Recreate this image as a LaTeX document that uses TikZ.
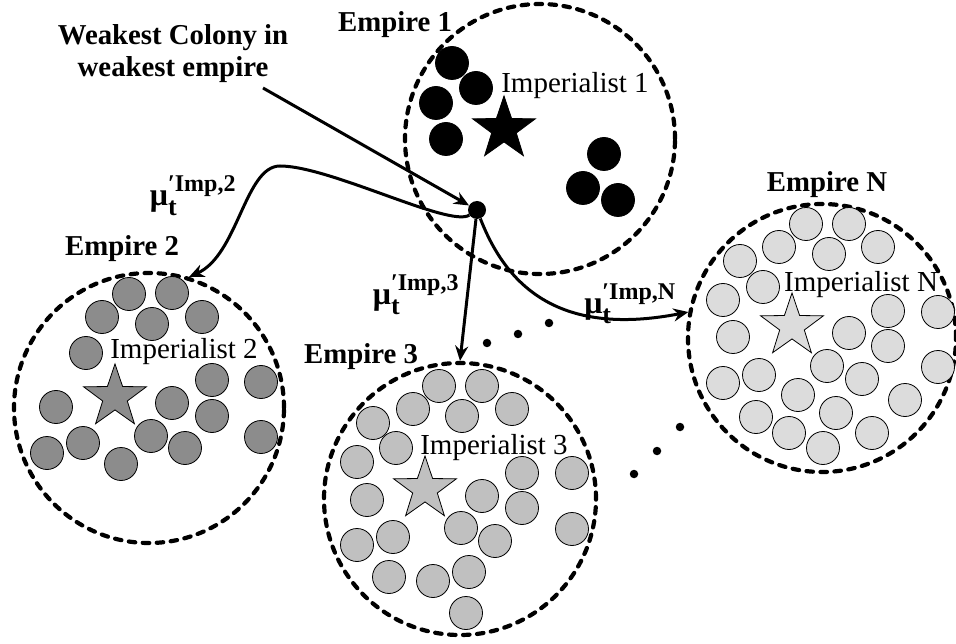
\documentclass[tikz,border=0pt]{standalone}
\usepackage{fontspec}
\usepackage{amsmath}
\setmainfont{Liberation Serif}
\usetikzlibrary{shapes.geometric,arrows.meta}

\definecolor{gA}{HTML}{8C8C8C}
\definecolor{gB}{HTML}{C0C0C0}
\definecolor{gC}{HTML}{DCDCDC}

\tikzset{
  empire/.style={circle, draw, line width=4.2pt, dash pattern=on 6.5pt off 7.5pt,
                 line cap=round, inner sep=0pt},
  colony/.style={circle, draw, line width=0.8pt, inner sep=0pt, minimum size=33pt},
  impstar/.style={star, star points=5, star point ratio=2.55, draw, line width=0.8pt,
                  inner sep=0pt, minimum size=66pt},
  gap/.style={circle, fill, inner sep=0pt, minimum size=8.5pt},
  lbl/.style={font=\fontsize{28.8}{32}\selectfont\bfseries, inner sep=0pt},
  implbl/.style={font=\fontsize{29}{32}\selectfont, inner sep=0pt},
  mulbl/.style={font=\fontsize{32}{34}\selectfont\bfseries, inner sep=0pt},
  link/.style={line width=3pt, -{Stealth[length=15pt, width=13pt]}},
}

% bold mu with prime, subscript t and a superscript tag
\newcommand{\mutag}[1]{$\text{μ}^{\text{\fontsize{24}{24}\selectfont ′#1}}_{\text{\fontsize{26}{26}\selectfont t}}$}

\begin{document}
\begin{tikzpicture}[x=1pt, y=-1pt]
  \useasboundingbox (0,0) rectangle (956,644);

  % empire boundaries
  \node[empire, minimum size=270pt] (E1) at (540,139) {};
  \node[empire, minimum size=270pt] (E2) at (149,408) {};
  \node[empire, minimum size=272pt] (E3) at (460,499) {};
  \node[empire, minimum size=268pt] (EN) at (822,338) {};

  % colonies of empire 1
  \foreach \x/\y [count=\i] in {452/63,476/88,436/103,446/139,604/154,583/188,618/200}
    \node[colony, fill=black] (a\i) at (\x,\y) {};
  \node[impstar, fill=black] (s1) at (504,129) {};

  % colonies of empire 2
  \foreach \x/\y [count=\i] in {129/294,172/293,102/317,152/324,202/317,86/353,
      212/380,261/382,56/407,172/403,212/416,151/436,83/443,47/453,185/448,121/464,261/437}
    \node[colony, fill=gA] (b\i) at (\x,\y) {};
  \node[impstar, fill=gA] (s2) at (115,397) {};

  % colonies of empire 3
  \foreach \x/\y [count=\i] in {439/386,482/386,413/409,462/416,512/409,373/423,
      396/448,357/462,522/473,572/473,367/500,482/496,522/508,572/529,461/528,
      393/537,357/545,495/541,389/577,433/581,469/572,466/613}
    \node[colony, fill=gB] (c\i) at (\x,\y) {};
  \node[impstar, fill=gB] (s3) at (425,489) {};

  % colonies of empire N
  \foreach \x/\y [count=\i] in {806/224,849/224,779/247,829/254,878/247,740/261,
      763/287,723/300,888/311,938/312,733/337,849/333,888/346,938/367,827/366,
      759/375,723/383,862/379,798/395,905/400,756/417,836/413,789/433,872/433,823/448}
    \node[colony, fill=gC] (n\i) at (\x,\y) {};
  \node[impstar, fill=gC] (sN) at (792,326) {};

  % weakest colony
  \node[circle, fill, inner sep=0pt, minimum size=18pt] (wc) at (477,210) {};

  % ellipses between empires
  \node[gap] (g1) at (487,343) {};
  \node[gap] (g2) at (518,334) {};
  \node[gap] (g3) at (549,323) {};
  \node[gap] (g4) at (634,474) {};
  \node[gap] (g5) at (657,451) {};
  \node[gap] (g6) at (680,427) {};

  % labels
  \node[lbl, align=center] (weak) at (173,54) {Weakest Colony in\\weakest empire};
  \node[lbl, anchor=base] (l1) at (395,32) {Empire 1};
  \node[lbl, anchor=base] (l2) at (122,256) {Empire 2};
  \node[lbl, anchor=base] (l3) at (361,363) {Empire 3};
  \node[lbl, anchor=base] (lN) at (827,192) {Empire N};

  \node[implbl, anchor=base] (i1) at (575,93) {Imperialist 1};
  \node[implbl, anchor=base] (i2) at (184,359) {Imperialist 2};
  \node[implbl, anchor=base] (i3) at (494,454) {Imperialist 3};
  \node[implbl, anchor=base] (iN) at (861,292) {Imperialist N};

  \node[mulbl] (m2) at (193,196) {\mutag{Imp,2}};
  \node[mulbl] (m3) at (416,295) {\mutag{Imp,3}};
  \node[mulbl] (mN) at (630,304) {\mutag{Imp,N}};

  % connectors
  \coordinate (wstart) at (263,88);
  \draw[link] (wstart) -- (wc);
  \draw[link] (wc) .. controls (450,228) and (330,166) .. (280,166)
                   .. controls (245,166) and (238,255) .. (E2.73);
  \draw[link] (wc) -- (E3.north);
  \draw[link] (wc) .. controls (505,282) and (555,338) .. (EN.169);
\end{tikzpicture}
\end{document}
